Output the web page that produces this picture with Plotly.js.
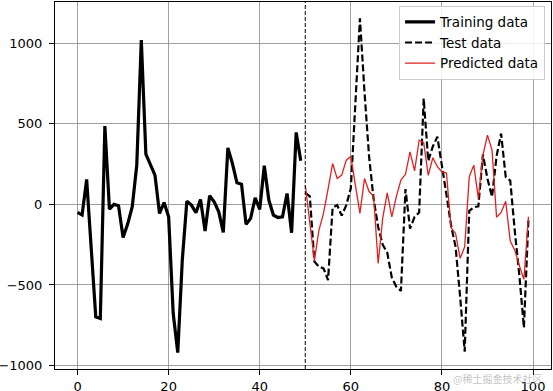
<!DOCTYPE html>
<html>
<head>
<meta charset="utf-8">
<script src="https://cdn.plot.ly/plotly-3.0.1.min.js"></script>
<style>
  html, body { margin: 0; padding: 0; background: #fff; }
  #chart { width: 553px; height: 391px; }
</style>
</head>
<body>
<div id="chart"></div>
<script>
// ---- data ----
const trainStart = 0;
const trainValues = [
  -50, -66, 155, -300, -698, -708, 486, -29, 0, -8,
  -205, -122, -15, 243, 1020, 312, 243, 182, -56, 12,
  -77, -676, -920, -345, 20, -4, -52, 31, -165, 54,
  16, -46, -174, 351, 254, 134, 126, -124, -87, 41,
  -31, 240, 27, -66, -81, -77, 68, -176, 447, 271
];
const testStart = 50;
const testValues = [
  72, 50, -355, -387, -397, -470, -20, -4, -70, -4,
  100, 640, 1155, 700, 300, 35, -140, -250, -300, -455,
  -511, -537, 95, -150, -77, -50, 657, 270, 360, 420,
  225, 60, -130, -263, -573, -914, -40, -18, -12, 310,
  160, 47, 300, 440, 172, 148, -165, -440, -765, -90
];
const predictedValues = [
  120, -110, -350, -159, -56, 95, 254, 161, 182, 275,
  298, 120, -56, 161, 80, 50, -366, -85, 72, -77,
  50, 151, 187, 326, 208, 399, 383, 180, 290, 235,
  202, 195, -145, -180, -335, -263, 172, 244, 37, 306,
  430, 337, -80, -50, 20, -227, -284, -380, -465, -77
];
const splitAt = 50;
const xTicks = [0, 20, 40, 60, 80, 100];
const yTicks = [-1000, -500, 0, 500, 1000];
const seriesNames = ['Training data', 'Test data', 'Predicted data'];
const watermark = '@稀土掘金技术社区';

const idx = (start, arr) => arr.map((_, i) => start + i);

const font = { family: 'DejaVu Sans, sans-serif', size: 13, color: '#000' };
const legendFont = { family: 'DejaVu Sans, sans-serif', size: 13.5, color: '#000' };

const traces = [
  { x: idx(trainStart, trainValues), y: trainValues, mode: 'lines', name: seriesNames[0],
    line: { color: '#000', width: 3.2 } },
  { x: idx(testStart, testValues), y: testValues, mode: 'lines', name: seriesNames[1],
    line: { color: '#000', width: 2.2, dash: '7px,3px' } },
  { x: idx(testStart, predictedValues), y: predictedValues, mode: 'lines', name: seriesNames[2],
    line: { color: '#e02020', width: 1.3 } }
];

const axisCommon = {
  showgrid: true, gridcolor: '#8a8a8a', gridwidth: 0.8,
  showline: true, mirror: true, linecolor: '#000', linewidth: 1,
  ticks: 'outside', ticklen: 5, tickcolor: '#000', tickwidth: 1,
  tickfont: font, zeroline: false
};

const layout = {
  width: 553, height: 391,
  margin: { l: 55, r: 2, t: 2, b: 22, pad: 0 },
  paper_bgcolor: '#fff', plot_bgcolor: '#fff',
  font: font,
  showlegend: true,
  xaxis: Object.assign({}, axisCommon, { range: [-4.95, 103.95], tickvals: xTicks }),
  yaxis: Object.assign({}, axisCommon, { range: [-1022, 1257], tickvals: yTicks, ticklabelstandoff: 4 }),
  legend: {
    x: 0.988, xanchor: 'right', y: 0.99, yanchor: 'top',
    bgcolor: 'rgba(255,255,255,0.85)', bordercolor: '#cccccc', borderwidth: 1,
    font: legendFont, tracegroupgap: 0
  },
  shapes: [{
    type: 'line', xref: 'x', yref: 'paper', x0: splitAt, x1: splitAt, y0: 0, y1: 1,
    line: { color: '#000', width: 1, dash: '4px,2px' }, layer: 'above'
  }],
  annotations: [{
    xref: 'paper', yref: 'paper', x: 0.893, y: -0.025, xanchor: 'center', yanchor: 'middle',
    text: watermark, showarrow: false,
    font: { family: 'Noto Sans CJK SC, sans-serif', size: 10, color: 'rgba(170,170,170,0.7)' }
  }]
};

Plotly.newPlot('chart', traces, layout, { displayModeBar: false, staticPlot: true });
</script>
</body>
</html>
